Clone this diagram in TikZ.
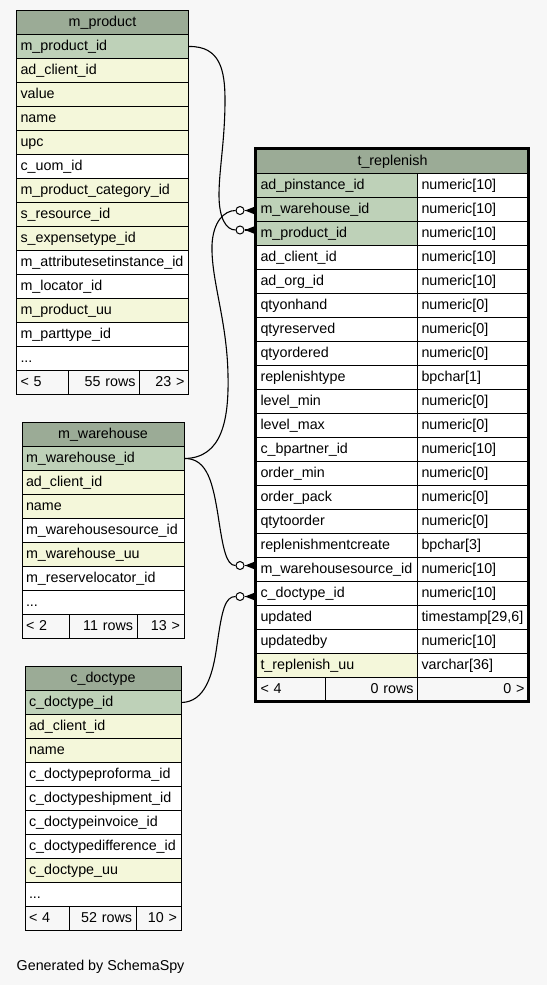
\documentclass[tikz,border=0pt]{standalone}
\usepackage{fontspec}
\setmainfont{Liberation Sans}
\usetikzlibrary{calc}
\definecolor{hdr}{HTML}{9BAB96}
\definecolor{pk}{HTML}{BED1B8}
\definecolor{idx}{HTML}{F4F7DA}
\definecolor{bg}{HTML}{F7F7F7}
\newcommand\prow[3]{\node[tcell,mpw,fill=#3] (mp#1) at (16,{10+24*#1}) {#2};}
\newcommand\wrow[3]{\node[tcell,mww,fill=#3] (mw#1) at (21.5,{422+24*#1}) {#2};}
\newcommand\drow[3]{\node[tcell,cdw,fill=#3] (cd#1) at (24.5,{666+24*#1}) {#2};}
\newcommand\rrow[4]{\node[tcell,trl,fill=#4] (trl#1) at (256,{149+24*#1}) {#2};
  \node[tcell,trr] (trr#1) at (417,{149+24*#1}) {#3};}
\newcommand\crowfoot[1]{\draw[conn] (#1.east) -- ++(11,0);
  \fill ($(#1.east)+(0.5,0)$) -- ++(10.5,-4.2) -- ++(0,8.4) -- cycle;}
\begin{document}
\begin{tikzpicture}[x=1pt,y=-1pt,
 tcell/.style={draw=black,line width=1pt,anchor=north west,minimum height=24pt,inner ysep=0pt,inner xsep=4pt,text height=10.5pt,text depth=3pt,align=left,fill=white,font=\fontsize{14.3}{17}\selectfont},
 hd/.style={fill=hdr,align=center},
 ft/.style={fill=bg},
 rt/.style={align=right},
 mpw/.style={minimum width=172pt,text width=164pt},
 mww/.style={minimum width=162pt,text width=154pt},
 cdw/.style={minimum width=156pt,text width=148pt},
 trl/.style={minimum width=161pt,text width=153pt},
 trr/.style={minimum width=111pt,text width=103pt},
 conn/.style={draw=black,line width=1.1pt},
 odot/.style={circle,draw=black,fill=white,line width=1pt,minimum size=8pt,inner sep=0pt},
]
\fill[bg] (0,0) rectangle (547,985);
\useasboundingbox (0,0) rectangle (547,985);

% m_product
\node[tcell,mpw,hd] (mp0) at (16,10) {m\_product};
\prow{1}{m\_product\_id}{pk}
\prow{2}{ad\_client\_id}{idx}
\prow{3}{value}{idx}
\prow{4}{name}{idx}
\prow{5}{upc}{idx}
\prow{6}{c\_uom\_id}{white}
\prow{7}{m\_product\_category\_id}{idx}
\prow{8}{s\_resource\_id}{idx}
\prow{9}{s\_expensetype\_id}{idx}
\prow{10}{m\_attributesetinstance\_id}{white}
\prow{11}{m\_locator\_id}{white}
\prow{12}{m\_product\_uu}{idx}
\prow{13}{m\_parttype\_id}{white}
\prow{14}{...}{white}
\node[tcell,ft,minimum width=52pt,text width=44pt] (mpf1) at (16,370) {< 5};
\node[tcell,ft,rt,minimum width=71pt,text width=63pt] (mpf2) at (68,370) {55 rows};
\node[tcell,ft,rt,minimum width=49pt,text width=41pt] (mpf3) at (139,370) {23 >};

% m_warehouse
\node[tcell,mww,hd] (mw0) at (21.5,422) {m\_warehouse};
\wrow{1}{m\_warehouse\_id}{pk}
\wrow{2}{ad\_client\_id}{idx}
\wrow{3}{name}{idx}
\wrow{4}{m\_warehousesource\_id}{white}
\wrow{5}{m\_warehouse\_uu}{idx}
\wrow{6}{m\_reservelocator\_id}{white}
\wrow{7}{...}{white}
\node[tcell,ft,minimum width=47pt,text width=39pt] (mwf1) at (21.5,614) {< 2};
\node[tcell,ft,rt,minimum width=68pt,text width=60pt] (mwf2) at (68.5,614) {11 rows};
\node[tcell,ft,rt,minimum width=47pt,text width=39pt] (mwf3) at (136.5,614) {13 >};

% c_doctype
\node[tcell,cdw,hd] (cd0) at (24.5,666) {c\_doctype};
\drow{1}{c\_doctype\_id}{pk}
\drow{2}{ad\_client\_id}{idx}
\drow{3}{name}{idx}
\drow{4}{c\_doctypeproforma\_id}{white}
\drow{5}{c\_doctypeshipment\_id}{white}
\drow{6}{c\_doctypeinvoice\_id}{white}
\drow{7}{c\_doctypedifference\_id}{white}
\drow{8}{c\_doctype\_uu}{idx}
\drow{9}{...}{white}
\node[tcell,ft,minimum width=44pt,text width=36pt] (cdf1) at (24.5,906) {< 4};
\node[tcell,ft,rt,minimum width=67pt,text width=59pt] (cdf2) at (68.5,906) {52 rows};
\node[tcell,ft,rt,minimum width=45pt,text width=37pt] (cdf3) at (135.5,906) {10 >};

% t_replenish
\node[tcell,hd,minimum width=272pt,text width=264pt] (tr0) at (256,149) {t\_replenish};
\rrow{1}{ad\_pinstance\_id}{numeric[10]}{pk}
\rrow{2}{m\_warehouse\_id}{numeric[10]}{pk}
\rrow{3}{m\_product\_id}{numeric[10]}{pk}
\rrow{4}{ad\_client\_id}{numeric[10]}{white}
\rrow{5}{ad\_org\_id}{numeric[10]}{white}
\rrow{6}{qtyonhand}{numeric[0]}{white}
\rrow{7}{qtyreserved}{numeric[0]}{white}
\rrow{8}{qtyordered}{numeric[0]}{white}
\rrow{9}{replenishtype}{bpchar[1]}{white}
\rrow{10}{level\_min}{numeric[0]}{white}
\rrow{11}{level\_max}{numeric[0]}{white}
\rrow{12}{c\_bpartner\_id}{numeric[10]}{white}
\rrow{13}{order\_min}{numeric[0]}{white}
\rrow{14}{order\_pack}{numeric[0]}{white}
\rrow{15}{qtytoorder}{numeric[0]}{white}
\rrow{16}{replenishmentcreate}{bpchar[3]}{white}
\rrow{17}{m\_warehousesource\_id}{numeric[10]}{white}
\rrow{18}{c\_doctype\_id}{numeric[10]}{white}
\rrow{19}{updated}{timestamp[29,6]}{white}
\rrow{20}{updatedby}{numeric[10]}{white}
\rrow{21}{t\_replenish\_uu}{varchar[36]}{idx}
\node[tcell,ft,minimum width=69pt,text width=61pt] (trf1) at (256,677) {< 4};
\node[tcell,ft,rt,minimum width=92pt,text width=84pt] (trf2) at (325,677) {0 rows};
\node[tcell,ft,rt,minimum width=111pt,text width=103pt] (trf3) at (417,677) {0 >};
\draw[line width=3pt] (255.5,148) rectangle (528.5,701.5);

% end markers
\node[odot] (oW) at (240,210.5) {};
\node[odot] (oP) at (240,230) {};
\node[odot] (oS) at (240,565.5) {};
\node[odot] (oD) at (240,596.5) {};
\crowfoot{oW}
\crowfoot{oP}
\crowfoot{oS}
\crowfoot{oD}

% connectors
\draw[conn] (mp1.east) .. controls (220,46) and (225,70) .. (225,100)
  .. controls (225,140) and (219,170) .. (219,195)
  .. controls (219,218) and (226,230) .. (oP.west);
\draw[conn] (mw1.east) .. controls (222,458) and (229,420) .. (228,375)
  .. controls (227,320) and (211,280) .. (212,245)
  .. controls (213,222) and (224,210.5) .. (oW.west);
\draw[conn] (mw1.east) .. controls (208,458) and (213,485) .. (218,515)
  .. controls (223,548) and (226,565.5) .. (oS.west);
\draw[conn] (cd1.east) .. controls (205,702) and (213,675) .. (217,645)
  .. controls (222,610) and (225,596.5) .. (oD.west);

\node[anchor=base west,inner sep=0pt,font=\fontsize{14.3}{17}\selectfont] (gen) at (16.5,970.5) {Generated by SchemaSpy};
\end{tikzpicture}
\end{document}
